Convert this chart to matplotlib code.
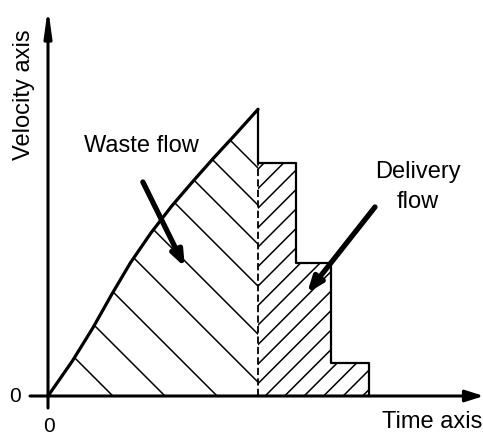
import numpy as np
import matplotlib
matplotlib.use("Agg")
import matplotlib.pyplot as plt
from matplotlib.patches import Polygon

plt.rcParams["font.family"] = ["Liberation Sans", "DejaVu Sans"]

# ── data ──
# velocity while accelerating (waste flow boundary)
ramp_t = [0.0, 0.65, 1.2, 1.7, 2.2, 2.75, 3.3, 3.85, 4.4, 5.0, 5.6]
ramp_v = [0.0, 1.05, 2.05, 3.05, 4.0, 4.9, 5.7, 6.42, 7.12, 7.85, 8.6]
# stepped delivery flow: edges in time, level in each interval
step_t = [5.6, 6.6, 7.55, 8.55]
step_v = [7.0, 4.0, 1.0]

# hatch line offsets (time-axis intercepts)
waste_hatch_t0 = [1.73, 3.12, 4.51, 5.97, 7.25, 8.53, 9.65, 10.69, 11.68]
deliv_hatch_t0 = np.arange(5.79 - 0.52 * 14, 8.6, 0.52)

fig = plt.figure(figsize=(4.83, 4.34), dpi=100)
ax = fig.add_axes([0, 0, 1, 1])
ax.set_xlim(-1.28, 11.6)
ax.set_ylim(-1.14, 11.88)
ax.axis("off")

# aspect factor so the hatch lines come out at 45 degrees on screen
k = 37.5 / 33.33

# ── regions ──
waste_poly = Polygon(list(zip(ramp_t, ramp_v)) + [(ramp_t[-1], 0)],
                     closed=True, fc="none", ec="none")
ax.add_patch(waste_poly)

deliv_pts = [(step_t[0], 0)]
for i, v in enumerate(step_v):
    deliv_pts += [(step_t[i], v), (step_t[i + 1], v)]
deliv_pts += [(step_t[-1], 0)]
deliv_poly = Polygon(deliv_pts, closed=True, fc="none", ec="none")
ax.add_patch(deliv_poly)

tt = np.array([-2.0, 14.0])
for t0 in waste_hatch_t0:
    ln, = ax.plot(tt, (t0 - tt) * k, color="black", lw=1.1)
    ln.set_clip_path(waste_poly)
for t0 in deliv_hatch_t0:
    ln, = ax.plot(tt, (tt - t0) * k, color="black", lw=1.1)
    ln.set_clip_path(deliv_poly)

# ── outlines ──
ax.plot(ramp_t, ramp_v, color="black", lw=2.3, solid_capstyle="round",
        solid_joinstyle="round")
outline_t = [ramp_t[-1]] + [p[0] for p in deliv_pts[1:]]
outline_v = [ramp_v[-1]] + [p[1] for p in deliv_pts[1:]]
ax.plot(outline_t, outline_v, color="black", lw=1.6)
ax.plot([step_t[0], step_t[0]], [0, step_v[0]], color="black", lw=1.3,
        linestyle=(0, (4, 1.8)))

# ── axes with arrowheads ──
ax.annotate("", xy=(0, 11.65), xytext=(0, -0.36), annotation_clip=False,
            arrowprops=dict(arrowstyle="-|>,head_length=1.6,head_width=0.22",
                            lw=2.2, color="black", shrinkA=0, shrinkB=0))
ax.annotate("", xy=(11.62, 0), xytext=(-0.48, 0), annotation_clip=False,
            arrowprops=dict(arrowstyle="-|>,head_length=1.1,head_width=0.35",
                            lw=2.2, color="black", shrinkA=0, shrinkB=0))

# ── labels ──
ax.text(-0.64, 9.03, "Velocity axis", rotation=90, ha="center", va="center",
        fontsize=17)
ax.text(11.57, -0.96, "Time axis", ha="right", va="baseline", fontsize=17)
ax.text(-0.88, -0.03, "0", ha="center", va="center", fontsize=15)
ax.text(0.03, -0.9, "0", ha="center", va="center", fontsize=15)

ax.text(2.48, 7.32, "Waste flow", ha="center", va="baseline", fontsize=17)
ax.text(9.87, 6.54, "Delivery", ha="center", va="baseline", fontsize=17)
ax.text(9.87, 5.64, "flow", ha="center", va="baseline", fontsize=17)

ax.annotate("", xy=(3.65, 3.87), xytext=(2.53, 6.42),
            arrowprops=dict(arrowstyle="-|>,head_length=0.9,head_width=0.35",
                            lw=3.8, color="black", shrinkA=0, shrinkB=0))
ax.annotate("", xy=(6.91, 3.09), xytext=(8.72, 5.67),
            arrowprops=dict(arrowstyle="-|>,head_length=0.9,head_width=0.35",
                            lw=3.8, color="black", shrinkA=0, shrinkB=0))

fig.savefig("out.png", dpi=100)
